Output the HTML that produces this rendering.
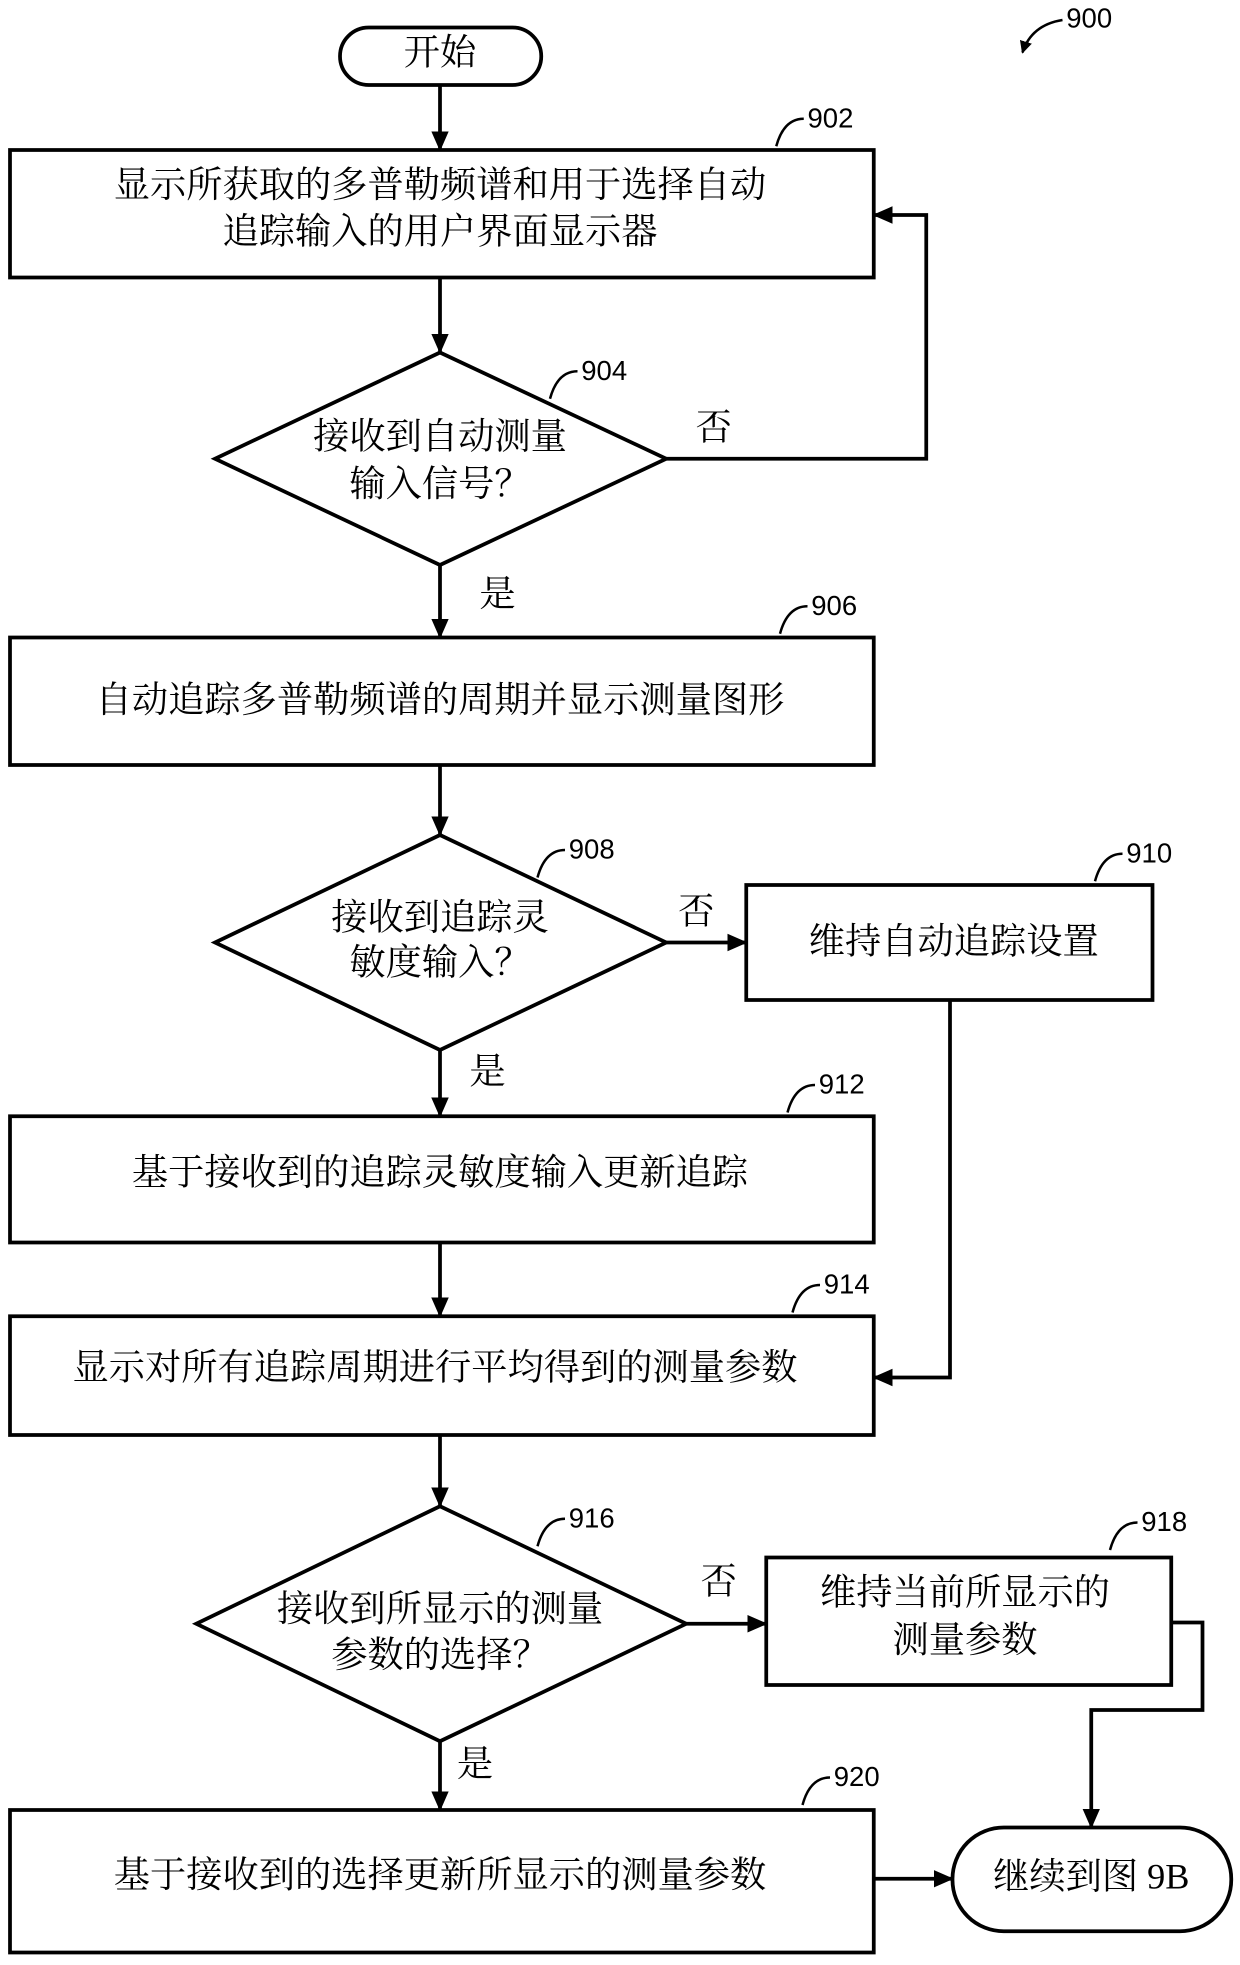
<!DOCTYPE html>
<html><head><meta charset="utf-8"><style>
html,body{margin:0;padding:0;background:#fff;}
svg{display:block}
text{font-family:"Liberation Serif","Noto Serif CJK SC","Noto Sans CJK SC",serif;font-size:29px;fill:#000;text-anchor:middle;dominant-baseline:middle}
.n{font-family:"Liberation Sans",sans-serif;font-size:22px;text-anchor:start}
</style></head><body>
<svg width="1240" height="1965" viewBox="0 0 992 1572" xmlns="http://www.w3.org/2000/svg">
<defs><marker id="a" markerWidth="10" markerHeight="10" refX="9" refY="5" orient="auto" markerUnits="userSpaceOnUse" viewBox="0 0 10 10"><path d="M0,0 L10,5 L0,10 Z" fill="#000"/></marker>
<marker id="b" markerWidth="16" markerHeight="16" refX="15" refY="8" orient="auto" markerUnits="userSpaceOnUse" viewBox="0 0 16 16"><path d="M0,1 L16,8 L0,15 Z" fill="#000"/></marker></defs>
<g stroke="#000" stroke-width="3" fill="none">
<rect x="272" y="22" width="161" height="46" rx="23"/>
<rect x="8" y="120" width="691" height="102"/>
<polygon points="352,282 533,367 352,452 172,367"/>
<rect x="8" y="510" width="691" height="102"/>
<polygon points="352,668 533,754 352,840 172,754"/>
<rect x="597" y="708" width="325" height="92"/>
<rect x="8" y="893" width="691" height="101"/>
<rect x="8" y="1053" width="691" height="95"/>
<polygon points="352,1205 549,1299 352,1393 157,1299"/>
<rect x="613" y="1246" width="324" height="102"/>
<rect x="8" y="1448" width="691" height="114"/>
<rect x="762" y="1462" width="223" height="83" rx="41"/>
<g marker-end="url(#b)">
<line x1="352" y1="68" x2="352" y2="120"/>
<line x1="352" y1="222" x2="352" y2="282"/>
<polyline points="533,367 741,367 741,172 699,172"/>
<line x1="352" y1="452" x2="352" y2="510"/>
<line x1="352" y1="612" x2="352" y2="668"/>
<line x1="533" y1="754" x2="597" y2="754"/>
<polyline points="760,800 760,1102 699,1102"/>
<line x1="352" y1="840" x2="352" y2="893"/>
<line x1="352" y1="994" x2="352" y2="1053"/>
<line x1="352" y1="1148" x2="352" y2="1205"/>
<line x1="549" y1="1299" x2="613" y2="1299"/>
<polyline points="937,1298 962,1298 962,1368 873,1368 873,1462"/>
<line x1="352" y1="1393" x2="352" y2="1448"/>
<line x1="699" y1="1503" x2="762" y2="1503"/>
</g>
<g stroke-width="2">
<path d="M643,95 q-16,0 -22,22"/>
<path d="M462,297 q-16,0 -22,22"/>
<path d="M646,485 q-16,0 -22,22"/>
<path d="M452,680 q-16,0 -22,22"/>
<path d="M898,683 q-16,0 -22,22"/>
<path d="M652,868 q-16,0 -22,22"/>
<path d="M656,1028 q-16,0 -22,22"/>
<path d="M452,1215 q-16,0 -22,22"/>
<path d="M910,1218 q-16,0 -22,22"/>
<path d="M664,1422 q-16,0 -22,22"/>
<path d="M850,16 q-25,4 -32,26" marker-end="url(#a)"/>
</g>
</g>
<text x="352" y="45">开始</text>
<text x="352" y="151">显示所获取的多普勒频谱和用于选择自动</text>
<text x="352" y="188">追踪输入的用户界面显示器</text>
<text x="352" y="352">接收到自动测量</text>
<text x="352" y="390">输入信号？</text>
<text x="571" y="345">否</text>
<text x="398" y="478">是</text>
<text x="352" y="563">自动追踪多普勒频谱的周期并显示测量图形</text>
<text x="352" y="737">接收到追踪灵</text>
<text x="352" y="773">敏度输入？</text>
<text x="557" y="732">否</text>
<text x="763" y="756">维持自动追踪设置</text>
<text x="390" y="860">是</text>
<text x="352" y="941">基于接收到的追踪灵敏度输入更新追踪</text>
<text x="348" y="1097">显示对所有追踪周期进行平均得到的测量参数</text>
<text x="352" y="1290">接收到所显示的测量</text>
<text x="352" y="1327">参数的选择？</text>
<text x="575" y="1268">否</text>
<text x="772" y="1277">维持当前所显示的</text>
<text x="772" y="1315">测量参数</text>
<text x="380" y="1414">是</text>
<text x="352" y="1503">基于接收到的选择更新所显示的测量参数</text>
<text x="873" y="1504">继续到图 9B</text>
<text class="n" x="646" y="96">902</text>
<text class="n" x="465" y="298">904</text>
<text class="n" x="649" y="486">906</text>
<text class="n" x="455" y="681">908</text>
<text class="n" x="901" y="684">910</text>
<text class="n" x="655" y="869">912</text>
<text class="n" x="659" y="1029">914</text>
<text class="n" x="455" y="1216">916</text>
<text class="n" x="913" y="1219">918</text>
<text class="n" x="667" y="1423">920</text>
<text class="n" x="853" y="16">900</text>
</svg>
</body></html>
